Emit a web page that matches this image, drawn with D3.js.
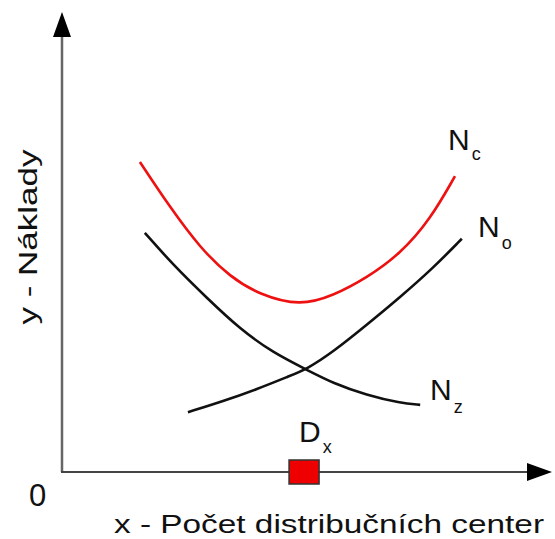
<!DOCTYPE html>
<html>
<head>
<meta charset="utf-8">
<script src="https://cdn.jsdelivr.net/npm/d3@7"></script>
<style>
  body { margin: 0; background: #fff; }
  text { font-family: "Liberation Sans", Arial, sans-serif; fill: #111; }
</style>
</head>
<body>
<div id="chart"></div>
<script>
const width = 555;
const height = 539;

// cost curves (x = number of centres, y = costs, both 0-100)
const ncX = [15.9, 22.0, 28.2, 34.3, 40.4, 48.6, 55.3, 62.2, 69.0, 75.1, 80.2];
const ncY = [67.4, 57.6, 48.7, 42.4, 38.5, 36.1, 38.3, 42.2, 47.4, 54.8, 64.3];
const noX = [25.7, 32.9, 39.8, 46.5, 50.0, 55.3, 62.2, 69.0, 75.7, 81.6];
const noY = [13.0, 15.4, 18.0, 20.9, 22.4, 26.1, 32.0, 38.0, 44.3, 50.7];
const nzX = [16.9, 22.7, 29.6, 36.3, 43.1, 50.0, 55.3, 62.2, 69.0, 73.1];
const nzY = [52.0, 45.0, 37.8, 31.1, 25.9, 22.2, 19.3, 16.7, 15.0, 14.6];
const optimumX = 49.4;

const svg = d3.select('#chart').append('svg')
  .attr('width', width)
  .attr('height', height);

const x = d3.scaleLinear().domain([0, 100]).range([62, 552]);
const y = d3.scaleLinear().domain([0, 100]).range([472, 12]);

const arrowLen = 25;
const arrowHalf = 9;

// axes
svg.append('line')
  .attr('x1', x(0)).attr('y1', y(0))
  .attr('x2', x(0)).attr('y2', y(100) + arrowLen)
  .attr('stroke', '#666').attr('stroke-width', 2.5);
svg.append('path')
  .attr('d', `M${x(0)},${y(100)} L${x(0) - arrowHalf},${y(100) + arrowLen} L${x(0) + arrowHalf},${y(100) + arrowLen} Z`)
  .attr('fill', '#000');

svg.append('line')
  .attr('x1', x(0) - 1).attr('y1', y(0))
  .attr('x2', x(100) - arrowLen).attr('y2', y(0))
  .attr('stroke', '#444').attr('stroke-width', 2);
svg.append('path')
  .attr('d', `M${x(100)},${y(0)} L${x(100) - arrowLen},${y(0) - arrowHalf} L${x(100) - arrowLen},${y(0) + arrowHalf} Z`)
  .attr('fill', '#000');

// curves
const line = d3.line()
  .x(d => x(d[0]))
  .y(d => y(d[1]))
  .curve(d3.curveBasis);

const curves = [
  {xs: ncX, ys: ncY, color: '#ee1111'},
  {xs: noX, ys: noY, color: '#111'},
  {xs: nzX, ys: nzY, color: '#111'}
];

curves.forEach(c => {
  svg.append('path')
    .datum(d3.zip(c.xs, c.ys))
    .attr('d', line)
    .attr('fill', 'none')
    .attr('stroke', c.color)
    .attr('stroke-width', 2.6);
});

// optimum marker
svg.append('rect')
  .attr('x', x(optimumX) - 15)
  .attr('y', y(0) - 12)
  .attr('width', 30)
  .attr('height', 24)
  .attr('fill', '#ee0000')
  .attr('stroke', '#333')
  .attr('stroke-width', 1.5);

// labels with subscripts
function subLabel(px, py, main, sub, subDy) {
  const t = svg.append('text')
    .attr('x', px)
    .attr('y', py)
    .attr('font-size', 30);
  t.append('tspan').text(main);
  t.append('tspan')
    .attr('font-size', 18)
    .attr('dx', 2)
    .attr('dy', subDy)
    .text(sub);
}

subLabel(448, 150, 'N', 'c', 10);
subLabel(478, 237, 'N', 'o', 12);
subLabel(430, 400, 'N', 'z', 13);
subLabel(299, 442, 'D', 'x', 11);

svg.append('text')
  .attr('x', 29)
  .attr('y', 506)
  .attr('font-size', 31)
  .text('0');

svg.append('text')
  .attr('x', 114)
  .attr('y', 533)
  .attr('font-size', 25)
  .attr('textLength', 430)
  .attr('lengthAdjust', 'spacingAndGlyphs')
  .text('x - Počet distribučních center');

svg.append('text')
  .attr('transform', 'translate(37, 237) rotate(-90)')
  .attr('text-anchor', 'middle')
  .attr('font-size', 25)
  .attr('textLength', 175)
  .attr('lengthAdjust', 'spacingAndGlyphs')
  .text('y - Náklady');
</script>
</body>
</html>
